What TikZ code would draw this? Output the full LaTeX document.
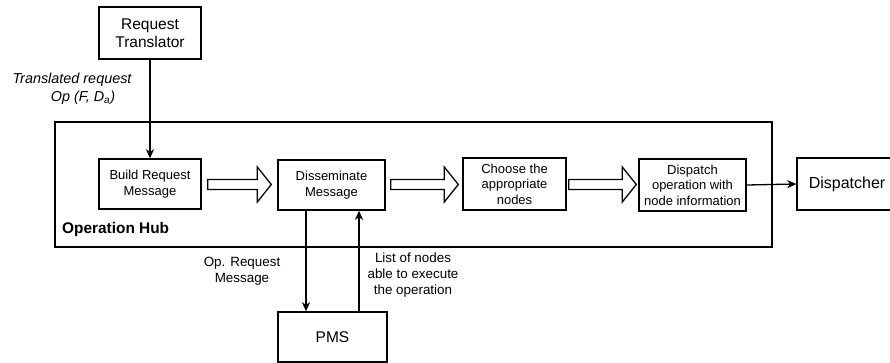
\documentclass[tikz,border=0pt]{standalone}
\usepackage{fontspec}
\setmainfont{Liberation Sans}
\usetikzlibrary{arrows.meta,calc}

\newcommand\fsz[2]{\fontsize{#1}{#2}\selectfont}

\tikzset{
  x=1pt, y=-1pt,
  box/.style={draw, line width=1.4pt, align=center, inner sep=0pt,
              font=\fsz{13}{15.5}},
  bigbox/.style={box, font=\fsz{15.5}{18}},
  arr/.style={line width=1.3pt, -{Stealth[length=9pt,width=8pt,inset=2.5pt]}},
  blk/.style={draw, line width=1.3pt, fill=white, line join=miter},
  lbl/.style={align=center, inner sep=0pt, font=\fsz{13.4}{15.8}},
}

% hollow block arrow between two nodes: #1 from, #2 to, #3/#4 gaps
\newcommand\blockarr[4]{%
  \draw[blk] let \p1=($(#1.east)+(#3,0)$), \p2=($(#2.west)+(-#4,0)$),
                 \n1={0.5*(\y1+\y2)} in
    (\x1,\n1-5pt) -- (\x2-14pt,\n1-5pt) -- (\x2-14pt,\n1-17.5pt)
    -- (\x2,\n1) -- (\x2-14pt,\n1+17.5pt) -- (\x2-14pt,\n1+5pt)
    -- (\x1,\n1+5pt) -- cycle;}

\begin{document}
\begin{tikzpicture}
\useasboundingbox (0,0) rectangle (890,362);

% operation hub frame
\draw[line width=2pt] (55,122) rectangle (772,247);
\node[anchor=west, inner sep=0pt, font=\fsz{15.4}{18}\bfseries] (hub) at (62,230) {Operation Hub};

% boxes
\node[bigbox, minimum width=102pt, minimum height=52pt] (rt) at (150,33) {Request\\Translator};
\node[box, minimum width=102pt, minimum height=50pt] (bmsg) at (150,184) {Build Request\\Message};
\node[box, minimum width=107pt, minimum height=50pt] (dm) at (331.5,185) {Disseminate\\Message};
\node[box, minimum width=103pt, minimum height=52pt] (choose) at (514.5,184) {Choose the\\appropriate\\nodes};
\node[box, minimum width=107pt, minimum height=52pt] (disp) at (692.5,185) {Dispatch\\operation with\\node information};
\node[bigbox, font=\fsz{16}{19}, minimum width=100pt, minimum height=52pt] (dispr) at (847,184) {Dispatcher};
\node[bigbox, minimum width=109pt, minimum height=50pt] (pms) at (332.5,337) {PMS};

% block arrows along the pipeline
\blockarr{bmsg}{dm}{6pt}{6pt}
\blockarr{dm}{choose}{5pt}{4pt}
\blockarr{choose}{disp}{2pt}{2pt}

% connectors
\draw[arr] (rt.south) -- (bmsg.north);
\draw[arr] (disp.east) -- (dispr.west);
\draw[arr] ([xshift=-25.5pt]dm.south) -- ([xshift=-25.5pt]dm.south |- pms.north);
\draw[arr] ([xshift=26.5pt]pms.north) -- ([xshift=26.5pt]pms.north |- dm.south);

% labels
\node[lbl, font=\fsz{14.4}{17.5}\itshape] (tr) at (72,89) {Translated request\\\hspace*{22pt}Op (F, D\textsubscript{a})};
\node[lbl] (opr) at (242,271) {Op. Request\\Message};
\node[lbl] (lst) at (413,275) {List of nodes\\able to execute\\the operation};
\end{tikzpicture}
\end{document}
